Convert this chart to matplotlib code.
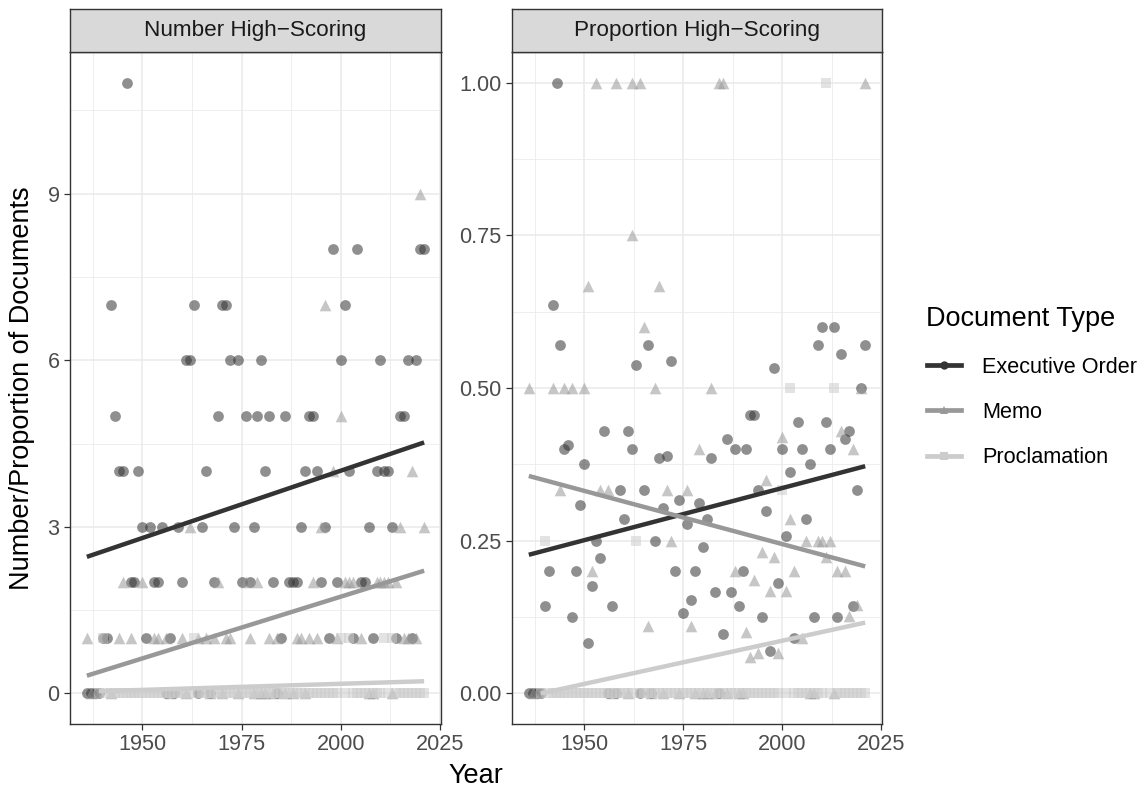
import numpy as np
import matplotlib.pyplot as plt
from matplotlib.lines import Line2D
from matplotlib.ticker import MultipleLocator

plt.rcParams['font.family'] = ['Liberation Sans', 'DejaVu Sans']

# executive orders: one value per year
years = np.arange(1936, 2022)
eo_count = [0, 0, 0, 0, 1, 1, 7, 5, 4, 4,
            11, 2, 2, 4, 3, 1, 3, 2, 2, 3,
            0, 1, 0, 3, 2, 6, 6, 7, 0, 3,
            4, 0, 2, 5, 7, 7, 6, 3, 6, 2,
            5, 2, 3, 5, 6, 4, 5, 2, 0, 1,
            5, 2, 2, 2, 3, 4, 5, 5, 4, 2,
            3, 1, 8, 2, 6, 7, 4, 1, 8, 2,
            2, 3, 1, 4, 6, 4, 4, 3, 1, 5,
            5, 6, 1, 6, 8, 8]
eo_share = [0, 0, 0, 0, .143, .2, .636, 1.0, .571, .4,
            .407, .125, .2, .308, .375, .083, .176, .25, .222, .429,
            0, .143, 0, .333, .286, .429, .4, .538, 0, .333,
            .571, 0, .25, .385, .304, .389, .545, .2, .317, .132,
            .277, .153, .2, .312, .239, .286, .385, .166, 0, .098,
            .417, .166, .4, .143, .2, .4, .455, .455, .333, .125,
            .299, .07, .533, .181, .4, .258, .363, .09, .444, .4,
            .286, .375, .125, .571, .6, .444, .4, .6, .125, .556,
            .417, .429, .143, .333, .5, .571]

# memos
memo_count_years = [1936, 1937, 1942, 1944, 1945, 1947, 1950, 1953, 1954, 1956,
                    1957, 1960, 1961, 1962, 1964, 1966, 1967, 1968, 1969, 1970,
                    1971, 1972, 1974, 1976, 1977, 1978, 1979, 1980, 1981, 1982,
                    1983, 1984, 1986, 1988, 1989, 1990, 1991, 1992, 1993, 1994,
                    1995, 1996, 1998, 1999, 2000, 2001, 2002, 2003, 2005, 2007,
                    2008, 2009, 2010, 2011, 2012, 2013, 2014, 2015, 2016, 2017,
                    2018, 2019, 2020, 2021]
memo_count = [1, 0, 0, 1, 2, 1, 2, 1, 1, 1,
              0, 1, 0, 3, 1, 1, 0, 1, 2, 0,
              1, 1, 0, 2, 1, 0, 2, 0, 0, 1,
              0, 1, 0, 0, 1, 1, 0, 1, 2, 1,
              3, 7, 4, 1, 5, 2, 2, 2, 1, 0,
              0, 2, 2, 2, 2, 0, 2, 3, 1, 1,
              4, 1, 9, 3]
memo_share_years = [1936, 1937, 1942, 1944, 1945, 1947, 1950, 1951, 1952, 1953,
                    1954, 1956, 1957, 1958, 1961, 1962, 1962, 1964, 1965, 1966,
                    1967, 1968, 1969, 1970, 1971, 1972, 1974, 1976, 1977, 1978,
                    1979, 1980, 1981, 1982, 1983, 1984, 1985, 1986, 1988, 1989,
                    1990, 1991, 1992, 1993, 1994, 1995, 1996, 1997, 1998, 1999,
                    2000, 2001, 2002, 2003, 2005, 2006, 2007, 2008, 2009, 2010,
                    2011, 2012, 2013, 2014, 2015, 2016, 2017, 2018, 2019, 2020,
                    2021]
memo_share = [.5, 0, .5, .333, .5, .5, .5, .667, .2, 1.0,
              .333, .333, 0, 1.0, 0, 1.0, .75, 1.0, .6, .111,
              0, .5, .667, 0, .333, .25, 0, .333, .111, 0,
              .4, 0, 0, .5, 0, 1.0, 1.0, 0, .2, 0,
              0, .101, .06, .185, .067, .232, .35, .167, .223, .067,
              .42, .167, .286, .2, .09, .25, 0, 0, .25, .25,
              .224, .25, 0, .2, .43, .2, .126, .4, .144, .5,
              1.0]

# proclamations: a handful of years with hits, zero everywhere else
procl_hit_years = [1940, 1963, 2000, 2002, 2011, 2013]
procl_hit_count = [1, 1, 1, 1, 1, 1]
procl_hit_share = [.25, .25, .333, .5, 1.0, .5]
procl_zero_years = [y for y in range(1939, 2022) if y not in procl_hit_years]

# lm fits (value at first and last year of each group)
eo_fit_years = [1936, 2021]
memo_fit_years = [1936, 2021]
procl_fit_years = [1939, 2021]
eo_fit_count = [2.46, 4.52]
memo_fit_count = [0.32, 2.21]
procl_fit_count = [0.04, 0.22]
eo_fit_share = [0.227, 0.372]
memo_fit_share = [0.356, 0.208]
procl_fit_share = [0.0, 0.116]

labels = ['Executive Order', 'Memo', 'Proclamation']
colors = ['#333333', '#989898', '#CCCCCC']
markers = ['o', '^', 's']
sizes = [60, 70, 46]

W, H = 1146, 789
fig = plt.figure(figsize=(W / 100, H / 100), dpi=100)


def box(x0, y0, x1, y1):
    return fig.add_axes([x0 / W, 1 - y1 / H, (x1 - x0) / W, (y1 - y0) / H])


def style(ax, ylim, ystep, yminor, fmt):
    ax.set_xlim(1931.75, 2025.25)
    ax.set_ylim(*ylim)
    ax.xaxis.set_major_locator(MultipleLocator(25))
    ax.xaxis.set_minor_locator(MultipleLocator(12.5))
    ax.yaxis.set_major_locator(MultipleLocator(ystep))
    ax.yaxis.set_minor_locator(MultipleLocator(yminor))
    ax.yaxis.set_major_formatter(fmt)
    ax.set_axisbelow(True)
    ax.grid(which='major', color='#EBEBEB', lw=1.2)
    ax.grid(which='minor', color='#EBEBEB', lw=0.6)
    ax.tick_params(which='major', length=4.5, width=0.9, color='#333333',
                   labelcolor='#4D4D4D', labelsize=15.6, pad=3)
    ax.tick_params(which='minor', length=0)
    for s in ax.spines.values():
        s.set_color('#333333')
        s.set_linewidth(1.0)


def strip(x0, x1, title):
    sa = box(x0, 9, x1, 52)
    sa.set_facecolor('#D9D9D9')
    sa.set_xticks([])
    sa.set_yticks([])
    for s in sa.spines.values():
        s.set_color('#333333')
        s.set_linewidth(1.0)
    sa.text(0.5, 0.5, title, ha='center', va='center', fontsize=16.2,
            color='#1A1A1A', transform=sa.transAxes)


def draw(ax, pts, fits):
    for (x, y), c, m, s in zip(pts, colors, markers, sizes):
        ax.scatter(x, y, s=s, c=c, marker=m, alpha=0.55, linewidths=0, zorder=2)
    for (x, y), c in zip(fits, colors):
        ax.plot(x, y, color=c, lw=3.2, solid_capstyle='butt', zorder=3)


ax1 = box(70, 52, 441, 724)
ax2 = box(512, 52, 882, 724)

draw(ax1,
     [(years, eo_count),
      (memo_count_years, memo_count),
      (procl_zero_years + procl_hit_years,
       [0] * len(procl_zero_years) + procl_hit_count)],
     [(eo_fit_years, eo_fit_count),
      (memo_fit_years, memo_fit_count),
      (procl_fit_years, procl_fit_count)])
draw(ax2,
     [(years, eo_share),
      (memo_share_years, memo_share),
      (procl_zero_years + procl_hit_years,
       [0] * len(procl_zero_years) + procl_hit_share)],
     [(eo_fit_years, eo_fit_share),
      (memo_fit_years, memo_fit_share),
      (procl_fit_years, procl_fit_share)])

style(ax1, (-0.55, 11.55), 3, 1.5, lambda v, p: f'{v:.0f}')
style(ax2, (-0.05, 1.05), 0.25, 0.125, lambda v, p: f'{v:.2f}')

strip(70, 441, 'Number High\u2212Scoring')
strip(512, 882, 'Proportion High\u2212Scoring')

fig.text(476 / W, 1 - 776 / H, 'Year', ha='center', va='center', fontsize=19.5)
fig.text(22 / W, 1 - 388 / H, 'Number/Proportion of Documents', rotation=90,
         ha='center', va='center', fontsize=19.5)

handles = [Line2D([0], [0], color=c, lw=3.4, marker=m, markersize=6,
                  markerfacecolor=c, markeredgewidth=0)
           for c, m in zip(colors, markers)]
fig.legend(handles, labels, loc='upper left', bbox_to_anchor=(907 / W, 1 - 287 / H),
           frameon=False, title='Document Type', title_fontsize=19.5,
           fontsize=15.6, handlelength=1.6, handletextpad=0.95,
           labelspacing=1.12, alignment='left')

fig.savefig('out.png', dpi=100)
